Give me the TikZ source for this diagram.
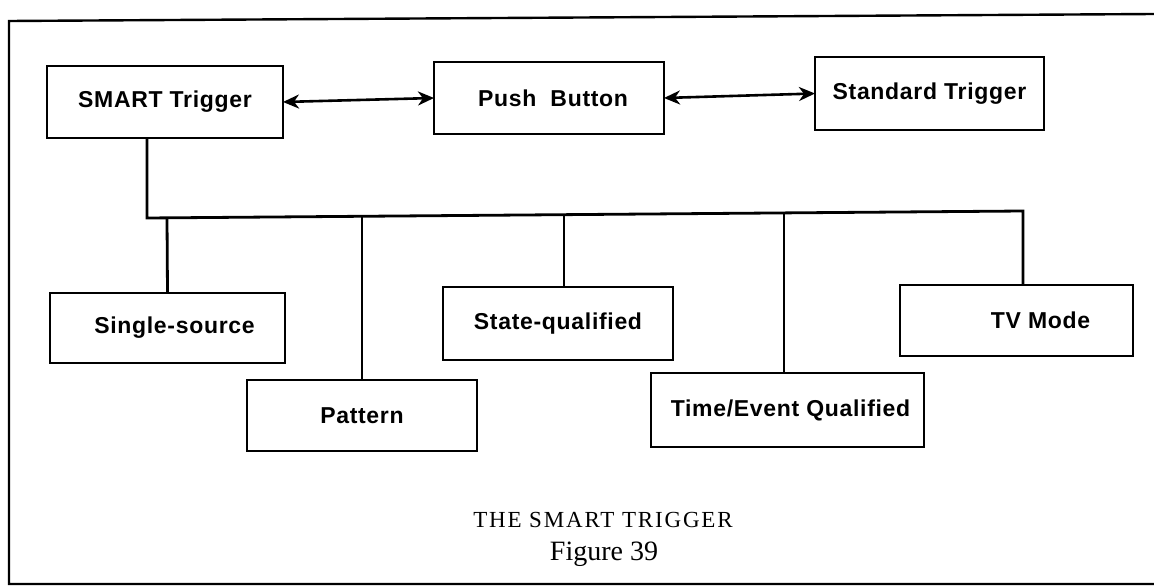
\documentclass[tikz,border=0pt]{standalone}
\usepackage{fontspec}
\setmainfont{Liberation Serif}
\newfontfamily\boxfont[LetterSpace=3]{Liberation Sans}
\newfontfamily\capfont[LetterSpace=8]{Liberation Serif}
\usetikzlibrary{arrows.meta}
\begin{document}
\begin{tikzpicture}[x=1pt,y=-1pt,
  blk/.style={draw,line width=2.8pt,inner sep=0pt,outer sep=0pt,
    font=\boxfont\bfseries\fontsize{23}{27}\selectfont},
  ln/.style={line width=2.8pt},
  dbl/.style={line width=2.6pt,{Stealth[length=16pt,width=14pt,inset=5pt]}-{Stealth[length=16pt,width=14pt,inset=5pt]}}]
\useasboundingbox (0,0) rectangle (1154,586);
% frame
\draw[line width=2.4pt] (1154,14) -- (9,21) -- (9,584) -- (1154,584);
% top row
\node[blk,minimum width=236pt,minimum height=72pt] (smart) at (165,102) {SMART Trigger};
\node[blk,minimum width=230pt,minimum height=72pt] (push) at (549,98) {\hspace*{8pt}Push\ \ Button};
\node[blk,minimum width=229pt,minimum height=73pt] (std) at (929.5,93.5) {Standard Trigger};
\draw[dbl] (smart.east) -- (push.west);
\draw[dbl] (push.east) -- (std.west);
% lower row
\node[blk,minimum width=235pt,minimum height=70pt] (single) at (167.5,328) {\hspace*{14pt}Single-source};
\node[blk,minimum width=230pt,minimum height=71pt] (pattern) at (362,415.5) {Pattern};
\node[blk,minimum width=230pt,minimum height=73pt] (state) at (558,323.5) {State-qualified};
\node[blk,minimum width=273pt,minimum height=74pt] (time) at (787.5,410) {\hspace*{6pt}Time/Event Qualified};
\node[blk,minimum width=233pt,minimum height=71pt] (tv) at (1016.5,320.5) {\hspace*{48pt}TV Mode};
% bus
\coordinate (bL) at (147,218);
\coordinate (bR) at (1023,211);
\coordinate (j1) at (167,217.8);
\coordinate (j2) at (362,216.3);
\coordinate (j3) at (564,214.7);
\coordinate (j4) at (784,213);
\draw[ln] (bL |- smart.south) -- (bL) -- (bR) -- (bR |- tv.north);
\draw[ln] (j1) -- (single.north);
\draw[ln] (j2) -- (pattern.north);
\draw[ln] (j3) -- (j3 |- state.north);
\draw[ln] (j4) -- (j4 |- time.north);
% caption
\node[font=\capfont\fontsize{23}{27}\selectfont] (cap1) at (603,520) {THE SMART TRIGGER};
\node[font=\fontsize{28}{32}\selectfont] (cap2) at (604,554) {Figure 39};
\end{tikzpicture}
\end{document}
